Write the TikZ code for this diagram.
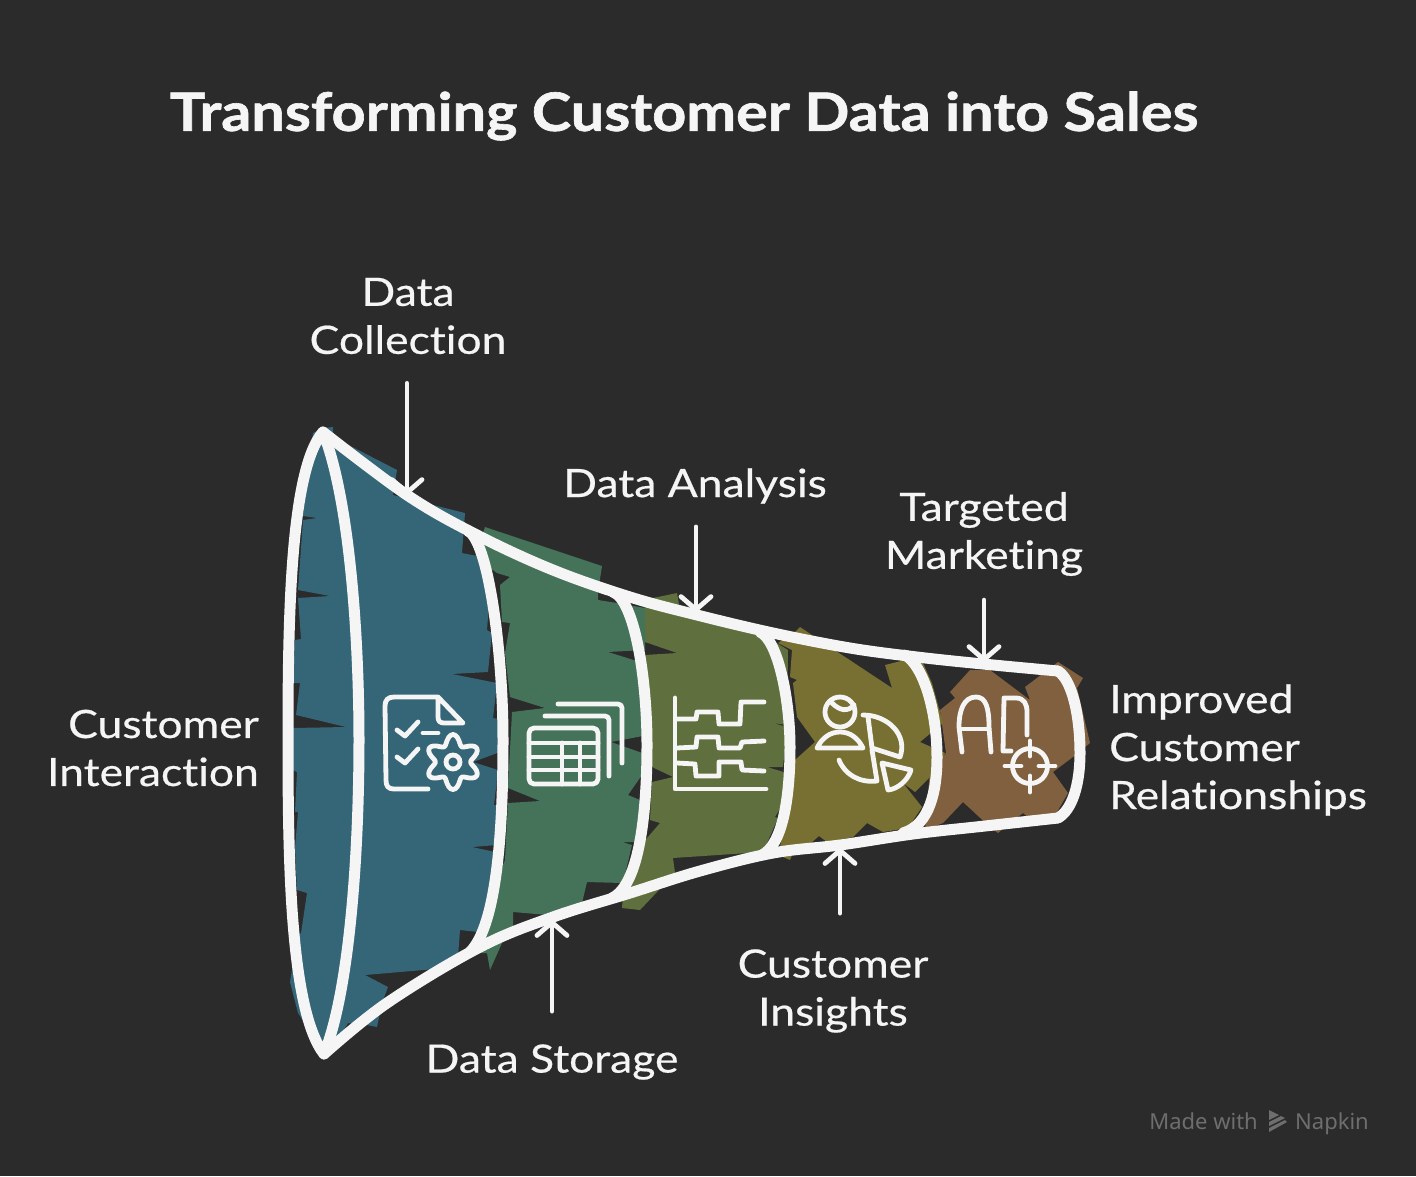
\documentclass[tikz,border=0pt]{standalone}
\usepackage{fontspec}
\setmainfont[FakeStretch=1.14,FakeBold=0.5,Ligatures=NoCommon]{Lato}
\newfontfamily\headfont[FakeStretch=1.12,FakeBold=1.2,Ligatures=NoCommon]{Lato}
\newfontfamily\markfont{Noto Sans}
\usetikzlibrary{arrows.meta}
\definecolor{backdrop}{HTML}{2B2B2B}
\definecolor{chalk}{HTML}{F5F5F5}
\definecolor{faint}{HTML}{6E6E6E}
\definecolor{tealband}{HTML}{356678}
\definecolor{greenband}{HTML}{45735A}
\definecolor{mossband}{HTML}{5F703E}
\definecolor{oliveband}{HTML}{787032}
\definecolor{brownband}{HTML}{80603F}
\tikzset{
  rim/.style={draw=chalk, line width=11pt, line cap=round, line join=round},
  icon/.style={draw=chalk, line width=4.8pt, line cap=round, line join=round},
  pointer/.style={draw=chalk, line width=4.8pt, line cap=round, -{Straight Barb[length=13pt,width=30pt,line width=4.8pt,round]}},
  caption/.style={text=chalk, font=\fontsize{39}{48}\selectfont, inner sep=0pt},
}

\begin{document}
\begin{tikzpicture}[x=1pt,y=-1pt]
\fill[backdrop] (0,0) rectangle (1416,1176);
\useasboundingbox (0,0) rectangle (1416,1176);
\fill[brownband] (970,670) -- (950,692) -- (955,698) -- (940,710) -- (946,753) -- (930,770) -- (925,830) -- (943,823) -- (963,802) -- (990,827) -- (998,833) -- (1010,823) -- (1023,813) -- (1038,825) -- (1043,823) -- (1057,812) -- (1068,793) -- (1053,772) -- (1073,757) -- (1090,743) -- (1077,688) -- (1083,678) -- (1058,662) -- (1025,687) -- (1030,700) -- (990,670) -- cycle;
\fill[oliveband] (795,632) -- (800,627) -- (812,635) -- (830,647) -- (892,688) -- (885,665) -- (913,658) -- (923,663) -- (932,683) -- (943,723) -- (920,742) -- (945,753) -- (935,772) -- (927,780) -- (915,792) -- (903,783) -- (922,807) -- (908,828) -- (883,832) -- (867,823) -- (853,837) -- (827,842) -- (819,836) -- (810,844) -- (795,848) -- (790,860) -- (783,857) -- (780,847) -- (793,787) -- (795,760) -- (815,742) -- (797,717) -- (793,683) -- (797,680) -- (790,677) -- (792,650) -- (778,643) -- cycle;
\fill[mossband] (653,598) -- (677,593) -- (680,610) -- (767,637) -- (788,650) -- (787,725) -- (773,723) -- (787,727) -- (783,767) -- (767,767) -- (787,773) -- (793,787) -- (775,817) -- (778,818) -- (763,852) -- (673,858) -- (675,873) -- (640,910) -- (622,908) -- (623,895) -- (632,857) -- (647,838) -- (660,823) -- (650,820) -- (652,782) -- (673,777) -- (652,767) -- (645,655) -- (677,653) -- (645,642) -- (645,608) -- cycle;
\fill[greenband] (485,527) -- (602,566) -- (598,592) -- (598,600) -- (617,603) -- (645,608) -- (645,650) -- (608,652) -- (640,662) -- (640,693) -- (648,697) -- (648,735) -- (611,742) -- (648,755) -- (642,775) -- (628,795) -- (640,800) -- (640,820) -- (638,842) -- (622,842) -- (632,845) -- (623,883) -- (587,882) -- (582,903) -- (548,915) -- (513,912) -- (513,927) -- (502,943) -- (490,970) -- (487,953) -- (480,953) -- (477,930) -- (505,860) -- (508,803) -- (540,801) -- (508,788) -- (512,712) -- (545,708) -- (510,697) -- (505,653) -- (510,623) -- (502,622) -- (500,585) -- (510,577) -- (497,573) -- (475,557) -- cycle;
\fill[tealband] (323,428) -- (333,427) -- (333,437) -- (397,470) -- (393,495) -- (465,513) -- (462,553) -- (477,556) -- (490,590) -- (487,630) -- (492,633) -- (488,672) -- (452,674) -- (497,683) -- (493,718) -- (503,720) -- (500,752) -- (473,762) -- (498,770) -- (494,805) -- (502,805) -- (497,845) -- (472,847) -- (495,852) -- (488,895) -- (487,917) -- (478,932) -- (460,930) -- (458,957) -- (435,969) -- (365,975) -- (388,987) -- (382,1003) -- (377,1027) -- (367,1025) -- (348,1023) -- (342,1033) -- (327,1057) -- (298,1013) -- (290,982) -- (298,933) -- (323,937) -- (300,940) -- (307,893) -- (297,890) -- (295,848) -- (298,812) -- (295,812) -- (297,772) -- (293,770) -- (293,728) -- (346,727) -- (296,715) -- (300,683) -- (293,683) -- (295,640) -- (301,639) -- (298,598) -- (330,596) -- (298,590) -- (303,520) -- (317,518) -- (303,516) -- (313,433) -- cycle;
\draw[rim] (323,432) .. controls (290,470) and (288,620) .. (288,740) .. controls (288,860) and (290,1010) .. (324,1054) .. controls (350,990) and (359,850) .. (359,740) .. controls (359,640) and (350,500) .. (323,432) -- cycle;
\draw[rim] plot[smooth,tension=.6] coordinates {(323,432) (407,495) (477,535) (553,570) (630,597) (697,615) (773,633) (850,648) (917,657) (983,664) (1058,671)};
\draw[rim] plot[smooth,tension=.6] coordinates {(324,1054) (387,1003) (480,947) (553,917) (630,893) (700,871) (773,853) (840,845) (913,834) (985,826) (1058,818)};
\draw[rim] (468,531) .. controls (488,540) and (503,650) .. (503,740) .. controls (503,830) and (497,925) .. (470,952);
\draw[rim] (613,592) .. controls (635,600) and (647,680) .. (647,745) .. controls (647,810) and (640,885) .. (612,898);
\draw[rim] (760,632) .. controls (778,640) and (790,700) .. (790,747) .. controls (790,800) and (782,845) .. (762,855);
\draw[rim] (905,655) .. controls (923,665) and (937,710) .. (937,757) .. controls (937,790) and (930,825) .. (903,833);
\draw[rim] (1058,671) .. controls (1072,680) and (1080,715) .. (1080,753) .. controls (1080,785) and (1072,810) .. (1058,818);
% document and gear
\draw[icon] (428,789) -- (394,789) .. controls (388,789) and (386,786) .. (386,780) -- (385,706) .. controls (385,700) and (388,697) .. (394,697) -- (438,697) -- (463,723) -- (444,723) .. controls (440,723) and (438,721) .. (438,717) -- (438,697);
\draw[icon] (397,730) -- (405,736) -- (418,722);
\draw[icon] (397,757) -- (405,763) -- (418,749);
\draw[icon] (423,733) -- (438,733);
\draw[icon] plot[domain=0:360,samples=73,smooth] ({453+(22.5-5*cos(6*\x))*cos(\x)},{762+(22.5-5*cos(6*\x))*sin(\x)}) -- cycle;
\draw[icon] (453,762) circle[radius=7pt];
% table and sheets
\draw[icon,rounded corners=5pt] (529,728) rectangle (598,784);
\draw[icon] (529,743) -- (598,743);
\draw[icon] (529,757) -- (598,757);
\draw[icon] (529,770) -- (598,770);
\draw[icon] (562,743) -- (562,784);
\draw[icon] (580,743) -- (580,784);
\draw[icon,rounded corners=4pt] (545,716) -- (609,716) -- (609,776);
\draw[icon,rounded corners=4pt] (558,704) -- (622,704) -- (622,763);
% stepped chart
\draw[icon] (675,698) -- (675,789) -- (766,789);
\draw[icon] (677,719) -- (696,719) -- (697,712) -- (718,712) -- (719,724) -- (740,724) -- (741,702) -- (764,702);
\draw[icon] (677,748) -- (696,747) -- (697,737) -- (718,737) -- (719,748) -- (740,748) -- (742,742) -- (764,741);
\draw[icon] (677,763) -- (695,764) -- (696,776) -- (719,776) -- (719,762) -- (741,762) -- (742,770) -- (764,771);
% person and pie
\draw[icon] (840,712) circle[radius=15pt];
\draw[icon] (832,703) .. controls (840,711) and (848,712) .. (854,705);
\draw[icon] (817,748) -- (863,748) .. controls (858,738) and (850,732) .. (840,732) .. controls (830,732) and (822,738) .. (817,748) -- cycle;
\draw[icon] (863,715) .. controls (888,715) and (908,735) .. (900,757) -- (872,748) -- (868,717);
\draw[icon] (839,760) .. controls (845,775) and (860,783) .. (877,781) -- (872,750);
\draw[icon] (882,763) -- (911,770) .. controls (908,780) and (898,789) .. (888,790) -- cycle;
% lettering and target
\draw[icon] (962,752) -- (959,727) .. controls (959,710) and (964,697) .. (976,697) .. controls (986,697) and (989,708) .. (989,727) -- (991,752);
\draw[icon] (960,729) -- (989,729);
\draw[icon] (1011,751) -- (1003,751) -- (1004,698) -- (1016,698) .. controls (1024,698) and (1027,704) .. (1027,712) -- (1027,735);
\draw[icon] (1030,766) circle[radius=17.5pt];
\draw[icon] (1030,741) -- (1030,756);
\draw[icon] (1030,776) -- (1030,792);
\draw[icon] (1005,766) -- (1021,766);
\draw[icon] (1039,766) -- (1055,766);
% texts
\path node[text=chalk, font=\fontsize{53}{56}\selectfont\headfont\bfseries, inner sep=0pt] (heading) at (684,116) {Transforming Customer Data into Sales};
\path node[caption, align=right, anchor=east] (interaction) at (259,748) {Customer\\Interaction};
\path node[caption, align=center] (collection) at (408,316) {Data\\Collection};
\path node[caption] (analysis) at (695,486) {Data Analysis};
\path node[caption, align=center] (marketing) at (984,534) {Targeted\\Marketing};
\path node[caption, align=left, anchor=west] (relations) at (1109,750) {Improved\\Customer\\Relationships};
\path node[caption, align=center] (insights) at (833,991) {Customer\\Insights};
\path node[caption] (storage) at (552,1062) {Data Storage};
\coordinate (collectiontip) at (407,495);
\coordinate (analysistip) at (696,612);
\coordinate (marketingtip) at (984,662);
\coordinate (insightstip) at (840,848);
\coordinate (storagetip) at (552,920);
\draw[pointer, shorten <=29pt] (collection.south -| collectiontip) -- (collectiontip);
\draw[pointer, shorten <=23pt] (analysis.south -| analysistip) -- (analysistip);
\draw[pointer, shorten <=24pt] (marketing.south -| marketingtip) -- (marketingtip);
\draw[pointer, shorten <=36pt] (insights.north -| insightstip) -- (insightstip);
\draw[pointer, shorten <=33pt] (storage.north -| storagetip) -- (storagetip);
% maker mark
\path node[text=faint, font=\fontsize{22}{24}\selectfont\markfont, inner sep=0pt, anchor=base east] (madewith) at (1258,1129) {Made with};
\path node[text=faint, font=\fontsize{22}{24}\selectfont\markfont, inner sep=0pt, anchor=base west] (napkin) at (1295,1129) {Napkin};
\fill[faint] (1269,1110) -- (1279,1115) -- (1269,1120) -- cycle;
\fill[faint] (1269,1122) -- (1281,1116) -- (1285,1118) -- (1269,1126) -- cycle;
\fill[faint] (1269,1128) -- (1285,1120) -- (1287,1122) -- (1269,1132) -- cycle;
\end{tikzpicture}
\end{document}
